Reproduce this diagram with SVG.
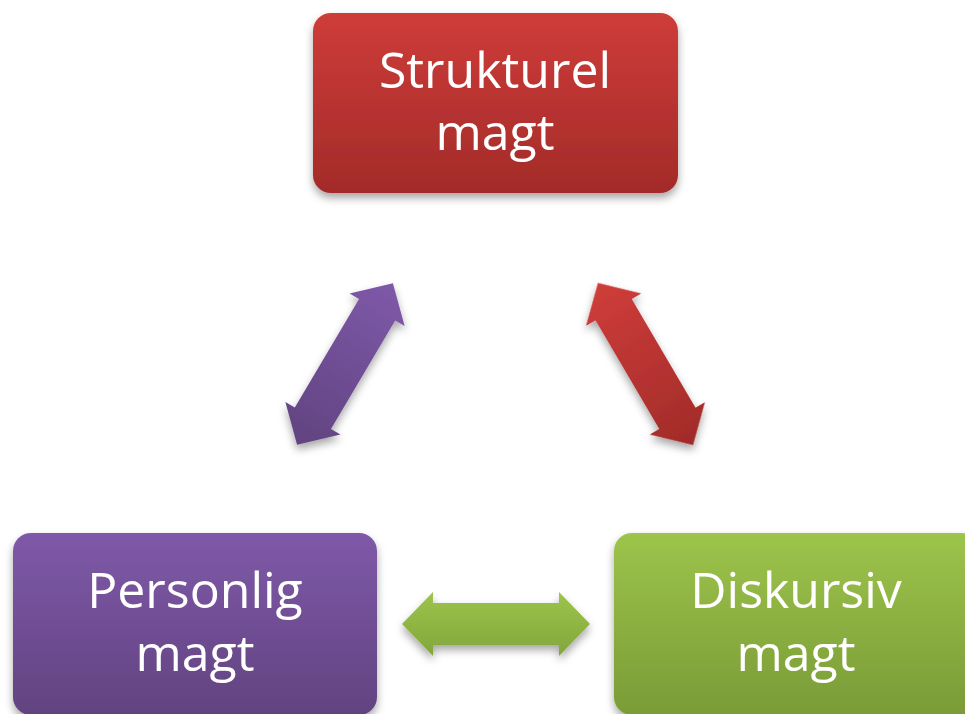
<svg xmlns="http://www.w3.org/2000/svg" width="965" height="714" viewBox="0 0 965 714">
<defs>
<linearGradient id="gRed" x1="0" y1="0" x2="0" y2="1"><stop offset="0" stop-color="#ce3c39"/><stop offset="1" stop-color="#a32b29"/></linearGradient>
<linearGradient id="gPur" x1="0" y1="0" x2="0" y2="1"><stop offset="0" stop-color="#7f59a9"/><stop offset="1" stop-color="#624380"/></linearGradient>
<linearGradient id="gGrn" x1="0" y1="0" x2="0" y2="1"><stop offset="0" stop-color="#9dc44b"/><stop offset="1" stop-color="#7a9b37"/></linearGradient>
<linearGradient id="aPur" gradientUnits="userSpaceOnUse" x1="94" y1="0" x2="-94" y2="0"><stop offset="0" stop-color="#7f59a9"/><stop offset="1" stop-color="#614380"/></linearGradient>
<linearGradient id="aRed" gradientUnits="userSpaceOnUse" x1="-94" y1="0" x2="94" y2="0"><stop offset="0" stop-color="#cf3d3a"/><stop offset="1" stop-color="#a12b29"/></linearGradient>
<linearGradient id="aGrn" x1="0" y1="0" x2="0" y2="1"><stop offset="0" stop-color="#9dc44b"/><stop offset="1" stop-color="#82a63c"/></linearGradient>
<filter id="sh" x="-20%" y="-20%" width="140%" height="150%"><feDropShadow dx="0" dy="5" stdDeviation="4" flood-color="#000" flood-opacity="0.35"/></filter>
<polygon id="dbl" points="-94,0 -63,-32 -63,-21 63,-21 63,-32 94,0 63,32 63,21 -63,21 -63,32"/>
</defs>
<style>
text{font-family:"Open Sans","Liberation Sans",sans-serif;font-size:50px;fill:#fff;text-anchor:middle}
</style>
<g id="connectors" filter="url(#sh)">
<g transform="translate(345,364) rotate(-59.35)"><use href="#dbl" fill="url(#aPur)"/></g>
<g transform="translate(645.5,364) rotate(59.6)"><use href="#dbl" fill="url(#aRed)"/></g>
<g transform="translate(496,624)"><use href="#dbl" fill="url(#aGrn)"/></g>
</g>
<g id="strukturel">
<rect x="313" y="13" width="365" height="180" rx="18" fill="url(#gRed)" filter="url(#sh)"/>
<text x="495" y="88">Strukturel<tspan x="495" dy="62">magt</tspan></text>
</g>
<g id="personlig">
<rect x="13" y="533" width="364" height="182" rx="18" fill="url(#gPur)" filter="url(#sh)"/>
<text x="195" y="608">Personlig<tspan x="195" dy="63">magt</tspan></text>
</g>
<g id="diskursiv">
<rect x="614" y="533" width="365" height="182" rx="18" fill="url(#gGrn)" filter="url(#sh)"/>
<text x="796" y="608">Diskursiv<tspan x="796" dy="63">magt</tspan></text>
</g>
</svg>
